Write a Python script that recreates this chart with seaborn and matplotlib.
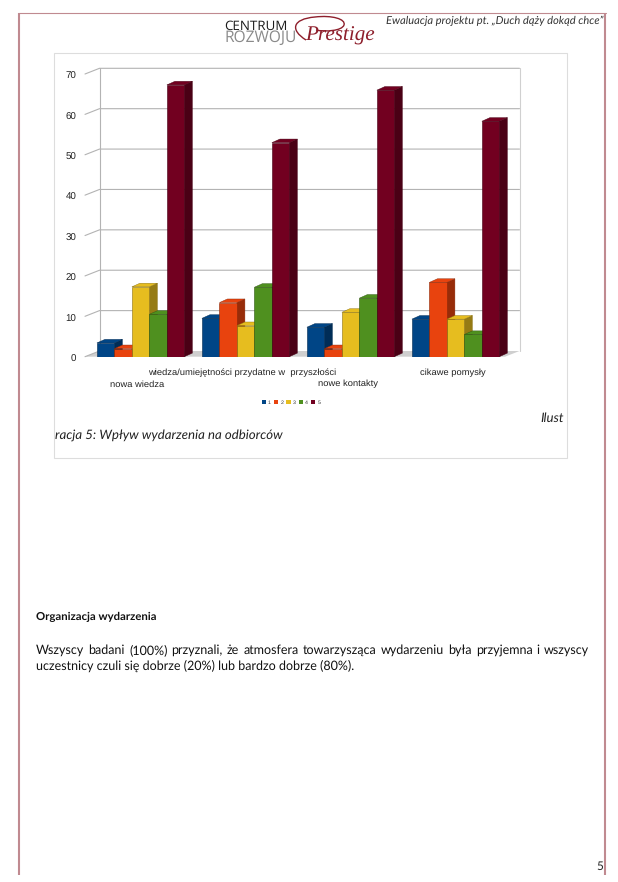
import pandas as pd
import seaborn as sns
import matplotlib
matplotlib.use("Agg")
import matplotlib.pyplot as plt
from matplotlib.colors import to_rgb
from matplotlib.patches import Polygon, Rectangle, PathPatch
from matplotlib.path import Path
from matplotlib.transforms import Affine2D

# wartosci
categories = ["nowa wiedza", "wiedza/umiejętności przydatne w  przyszłości", "nowe kontakty", "cikawe pomysły"]
series_names = ["1", "2", "3", "4", "5"]
values_1 = [3.4, 9.5, 7.3, 9.3]
values_2 = [2.0, 13.4, 2.0, 18.4]
values_3 = [17.3, 7.7, 11.0, 9.3]
values_4 = [10.5, 17.2, 14.5, 5.5]
values_5 = [67.3, 53.0, 66.0, 58.3]
colors = ["#004586", "#e8430e", "#e6bd1f", "#4f901f", "#720020"]
y_ticks = [0, 10, 20, 30, 40, 50, 60, 70]

W, H = 618, 882
BORDER = "#c08a90"

rows = []
for name, vals in zip(series_names, [values_1, values_2, values_3, values_4, values_5]):
    for cat, v in zip(categories, vals):
        rows.append({"kategoria": cat, "ocena": name, "procent": v})
df = pd.DataFrame(rows)

sns.set_theme(style="white")
plt.rcParams["font.family"] = ["Liberation Sans", "DejaVu Sans"]
plt.rcParams["text.hinting"] = "no_hinting"

fig = plt.figure(figsize=(W / 100, H / 100), dpi=100, facecolor="white")

# warstwa strony, wspolrzedne w pikselach
page = fig.add_axes([0, 0, 1, 1], zorder=0)
page.set_xlim(0, W)
page.set_ylim(H, 0)
page.axis("off")

page.plot([18.5, 18.5], [12.5, 875], color=BORDER, lw=1.5, solid_capstyle="butt")
page.plot([605, 605], [12.5, 875], color=BORDER, lw=1.5, solid_capstyle="butt")
page.plot([18, 605.5], [12.7, 12.7], color=BORDER, lw=0.8)
page.add_patch(Rectangle((54, 53), 513, 405, fill=False, ec="#dddddd", lw=0.8))

# naglowek
page.text(224, 29.5, "CENTRUM", fontsize=9.6, color="#1c1c1c", va="baseline", family="Open Sans")
page.text(224, 41.5, "ROZWOJU", fontsize=11.2, color="#8a8a8a", va="baseline", family="Open Sans")
page.text(305, 41, "Prestige", fontsize=15.2, color="#8e1f2c", va="baseline", family="Liberation Serif",
          style="italic")
swash = Path([(306, 40), (290, 30), (292, 19), (315, 17), (332, 15), (346, 19), (344, 25), (342, 31), (325, 32), (316, 30)],
             [Path.MOVETO, Path.CURVE4, Path.CURVE4, Path.CURVE4, Path.CURVE4, Path.CURVE4, Path.CURVE4,
              Path.CURVE4, Path.CURVE4, Path.CURVE4])
page.add_patch(PathPatch(swash, fc="none", ec="#8e1f2c", lw=1))
page.text(603, 21, "Ewaluacja projektu pt. „Duch dąży dokąd chce”", fontsize=8.0, style="italic",
          color="#333333", ha="right", va="center", family="Lato")

# podpis i tekst
page.text(564, 418, "Ilust", fontsize=9.5, style="italic", color="#222222", ha="right", va="center", family="Lato")
page.text(55, 435, "racja 5: Wpływ wydarzenia na odbiorców", fontsize=9.5, style="italic", color="#222222",
          va="center", family="Lato")
page.text(36, 617, "Organizacja wydarzenia", fontsize=8.2, weight="bold", color="#111111", va="center", family="Lato")
page.text(36, 666, "uczestnicy czuli się dobrze (20%) lub bardzo dobrze (80%).", fontsize=9, color="#111111",
          va="center", family="Lato")
page.text(600, 867, "5", fontsize=8.5, color="#222222", ha="center", va="center", family="Lato")

# pierwszy wiersz justowany
line_words = "Wszyscy badani (100%) przyznali, że atmosfera towarzysząca wydarzeniu była przyjemna i wszyscy".split()
renderer = fig.canvas.get_renderer()
word_texts = [page.text(0, 650, w, fontsize=9, color="#111111", va="center", family="Lato") for w in line_words]
widths = [t.get_window_extent(renderer).width for t in word_texts]
space = (589 - 36 - sum(widths)) / (len(widths) - 1)
pos = 36
for t, w in zip(word_texts, widths):
    t.set_x(pos)
    pos += w + space

# wykres, os odpowiada przedniej plaszczyznie
ax = fig.add_axes([85 / W, 1 - 356.7 / H, 420 / W, 282.7 / H], zorder=1)
ax.patch.set_alpha(0)
sns.barplot(data=df, x="kategoria", y="procent", hue="ocena", palette=colors, width=0.833, gap=0,
            saturation=1, ax=ax, edgecolor="none", zorder=3)
x0, x1 = -0.53, 3.47
ax.set_xlim(x0, x1)
ax.set_ylim(0, 70)
sns.despine(ax=ax, left=True, bottom=True)

px = (x1 - x0) / 420
py = 70 / 282.7
depth_x, depth_y = 14.5 * px, 5.7 * py
side_x, side_y = 8 * px, 3.6 * py

# tylna sciana i podloga
ax.add_patch(Polygon([(x0, 0), (x0 + depth_x, depth_y), (x1 + depth_x, depth_y), (x1, 0)],
                     fc="#cfcfcf", ec="none", clip_on=False, zorder=1))
for v in y_ticks[1:]:
    ax.plot([x0, x0 + depth_x, x1 + depth_x], [v, v + depth_y, v + depth_y], color="#b3b3b3", lw=0.8,
            clip_on=False, zorder=1)
ax.plot([x0, x0 + depth_x], [0, depth_y], color="#b3b3b3", lw=0.8, clip_on=False, zorder=1)
ax.plot([x0 + depth_x] * 2, [depth_y, 70 + depth_y], color="#b3b3b3", lw=0.8, clip_on=False, zorder=1)
ax.plot([x1 + depth_x] * 2, [depth_y, 70 + depth_y], color="#d0d0d0", lw=0.8, clip_on=False, zorder=1)

# boki i wierzch slupkow, malowane od lewej do prawej
bars = sorted([(p, c) for c, cont in zip(colors, ax.containers) for p in cont], key=lambda b: b[0].get_x())
for i, (bar, col) in enumerate(bars):
    z = 3 + i * 0.1
    left, w, h = bar.get_x(), bar.get_width(), bar.get_height()
    rgb = to_rgb(col)
    dark = tuple(c * 0.65 for c in rgb)
    edge = tuple(c * 0.6 for c in rgb)
    bar.set_zorder(z + 0.02)
    bar.set_edgecolor(edge)
    bar.set_linewidth(0.4)
    ax.add_patch(Polygon([(left + w, 0), (left + w + side_x, side_y), (left + w + side_x, h + side_y), (left + w, h)],
                         fc=dark, ec=edge, lw=0.3, clip_on=False, zorder=z))
    ax.add_patch(Polygon([(left, h), (left + side_x, h + side_y), (left + w + side_x, h + side_y), (left + w, h)],
                         fc=col, ec=edge, lw=0.3, clip_on=False, zorder=z + 0.01))

ax.set_yticks(y_ticks)
ax.set_xticks([i - 0.03 for i in range(4)])
ax.set_xticklabels(categories)
ax.tick_params(axis="y", length=0, pad=6.2, labelsize=7, labelcolor="#222222")
ax.tick_params(axis="x", length=0, pad=8.3, labelsize=6.75, labelcolor="#222222")
# etykiety na przemian w dwoch rzedach
for i, tick in enumerate(ax.xaxis.get_major_ticks()):
    if i % 2 == 0:
        tick.set_pad(16.7)
# liczby na osi y nieco nizej
for lab in ax.get_yticklabels():
    lab.set_transform(lab.get_transform() + Affine2D().translate(0, -1.5))
ax.set_xlabel("")
ax.set_ylabel("")

handles, labels = ax.get_legend_handles_labels()
ax.legend(handles, labels, ncol=5, loc="center", bbox_to_anchor=(291 / W, 1 - 402.7 / H),
          bbox_transform=fig.transFigure, frameon=False, fontsize=3.8, handlelength=0.8, handleheight=0.8,
          handletextpad=0.4, columnspacing=0.6, labelcolor="#333333")

fig.savefig("out.png", dpi=100)
